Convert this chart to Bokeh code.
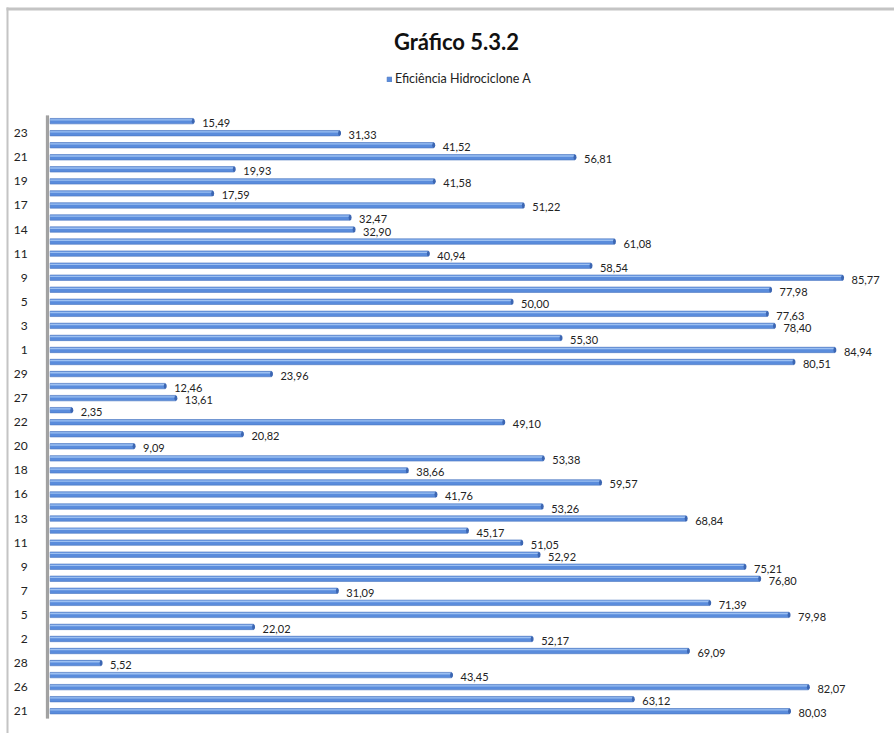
from bokeh.plotting import figure
from bokeh.models import (ColumnDataSource, Range1d, FixedTicker, Label,
                          BoxAnnotation, Legend, LegendItem)
from bokeh.embed import file_html
from bokeh.resources import INLINE
from bokeh.core.properties import value

# Hydrocyclone A efficiency (%) for each test, listed from the top bar downwards
efficiency = [15.49, 31.33, 41.52, 56.81, 19.93, 41.58, 17.59, 51.22, 32.47, 32.90,
              61.08, 40.94, 58.54, 85.77, 77.98, 50.00, 77.63, 78.40, 55.30, 84.94,
              80.51, 23.96, 12.46, 13.61, 2.35, 49.10, 20.82, 9.09, 53.38, 38.66,
              59.57, 41.76, 53.26, 68.84, 45.17, 51.05, 52.92, 75.21, 76.80, 31.09,
              71.39, 79.98, 22.02, 52.17, 69.09, 5.52, 43.45, 82.07, 63.12, 80.03]

# run numbers printed on every second bar (2nd, 4th, ... from the top)
run_labels = ["23", "21", "19", "17", "14", "11", "9", "5", "3", "1",
              "29", "27", "22", "20", "18", "16", "13", "11", "9", "7",
              "5", "2", "28", "26", "21"]

series_name = "Eficiência Hidrociclone A"
chart_title = "Gráfico 5.3.2"

FONT = "Lato"
n = len(efficiency)
ypos = [n - 1 - i for i in range(n)]          # first entry sits at the top
ytext = [f"{v:.2f}".replace(".", ",") for v in efficiency]

src = ColumnDataSource(dict(y=ypos, v=efficiency, t=ytext,
                            yh=[y + 0.11 for y in ypos]))

p = figure(width=894, height=733, output_backend="svg", toolbar_location=None,
           x_range=Range1d(-5.37, 91.39), y_range=Range1d(-1.85, 59.02),
           x_axis_location=None, min_border_left=0, min_border_right=0,
           min_border_top=0, min_border_bottom=0)
p.outline_line_color = None
p.background_fill_color = "white"
p.border_fill_color = "white"
p.xgrid.visible = False
p.ygrid.visible = False

# y axis drawn just left of the bars; only every second run number is printed
tick_pos = [ypos[i] for i in range(1, n, 2)]
yax = p.yaxis[0]
yax.fixed_location = -0.47
yax.ticker = FixedTicker(ticks=tick_pos, minor_ticks=[])
yax.major_label_overrides = {pos: lab for pos, lab in zip(tick_pos, run_labels)}
yax.axis_line_color = None
yax.major_tick_line_color = None
yax.minor_tick_line_color = None
yax.major_label_standoff = 12
yax.major_label_text_font = FONT
yax.major_label_text_font_size = "12px"
yax.major_label_text_color = "#222222"

# grey side wall of the 3-D chart floor
p.add_layout(BoxAnnotation(left=-0.45, right=-0.12, bottom=-0.6, top=49.47,
                           fill_color="#a3a3a3", fill_alpha=1.0,
                           line_color="#8c8c8c", line_width=0.5))

# chart border (top and left edges)
p.add_layout(BoxAnnotation(left=6, right=894, top=726, bottom=723,
                           left_units="screen", right_units="screen",
                           top_units="screen", bottom_units="screen",
                           fill_color="#c4c4c4", fill_alpha=1.0, line_color=None))
p.add_layout(BoxAnnotation(left=6, right=8, top=726, bottom=-5,
                           left_units="screen", right_units="screen",
                           top_units="screen", bottom_units="screen",
                           fill_color="#c4c4c4", fill_alpha=1.0, line_color=None))

# cylinder-like bars: body, highlight stripe and darker end cap
bars = p.hbar(y="y", right="v", left=0, height=0.45, source=src,
              fill_color="#5a8cdc", line_color="#4a76c0", line_width=0.6)
p.hbar(y="yh", right="v", left=0, height=0.11, source=src,
       fill_color="#9cc0f2", line_color=None)
p.ellipse(x="v", y="y", width=3, height=0.45, width_units="screen", source=src,
          fill_color="#3c66b2", line_color=None)

# value labels
p.text(x="v", y="y", text="t", source=src, x_offset=9, y_offset=2,
       text_baseline="middle", text_align="left", text_font=value(FONT),
       text_font_size="11px", text_color="#222222")

# title
p.add_layout(Label(x=456, y=692, x_units="screen", y_units="screen",
                   text=chart_title, text_align="center", text_baseline="middle",
                   text_font=FONT, text_font_style="bold", text_font_size="22px",
                   text_color="#111111"))

# legend
leg = Legend(items=[LegendItem(label=series_name, renderers=[bars])],
             location=(386, 647), padding=0, margin=0, spacing=0,
             glyph_width=6, glyph_height=6, label_height=12, label_standoff=3,
             label_text_font=FONT, label_text_font_size="12.5px",
             label_text_color="#222222", border_line_color=None,
             background_fill_alpha=0.0)
p.add_layout(leg)

open("out.html", "w").write(file_html(p, INLINE))
